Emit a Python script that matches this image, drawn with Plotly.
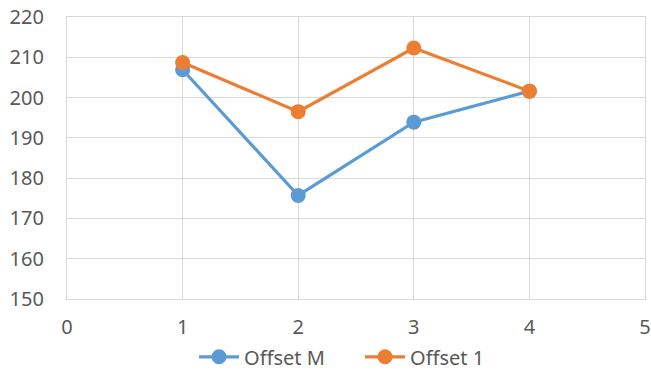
import plotly.graph_objects as go

# Data series
x_vals = [1, 2, 3, 4]
offset_m = [206.9, 175.7, 193.9, 201.6]
offset_1 = [208.7, 196.5, 212.3, 201.6]

series_names = ["Offset M", "Offset 1"]
series_colors = ["#5B9BD5", "#ED7D31"]

x_ticks = [0, 1, 2, 3, 4, 5]
y_ticks = [150, 160, 170, 180, 190, 200, 210, 220]

grid = "#D9D9D9"
text_color = "#595959"
font_family = "Noto Sans"

fig = go.Figure()
for name, vals, color in zip(series_names, [offset_m, offset_1], series_colors):
    fig.add_trace(go.Scatter(
        x=x_vals, y=vals, name=name, mode="lines+markers",
        line=dict(color=color, width=3.2),
        marker=dict(color=color, size=15),
    ))

fig.update_layout(
    width=651, height=376,
    margin=dict(l=67, r=6, t=17, b=77, autoexpand=False),
    paper_bgcolor="white", plot_bgcolor="white",
    font=dict(family=font_family, size=20, color=text_color),
    showlegend=True,
    legend=dict(
        orientation="h", x=0.507, xanchor="center",
        y=-0.205, yanchor="middle",
        font=dict(size=20, color=text_color),
        itemwidth=40, entrywidth=111, entrywidthmode="pixels",
        tracegroupgap=0,
    ),
)
fig.update_xaxes(
    range=[0, 5], tickvals=x_ticks, ticktext=[str(v) for v in x_ticks],
    showgrid=True, gridcolor=grid, gridwidth=1.2,
    showline=True, linecolor=grid, linewidth=1.2, mirror=True,
    zeroline=False, ticks="", ticklabelstandoff=10,
)
fig.update_yaxes(
    range=[150, 220], tickvals=y_ticks, ticktext=[str(v) for v in y_ticks],
    showgrid=True, gridcolor=grid, gridwidth=1.2,
    showline=True, linecolor=grid, linewidth=1.2, mirror=True,
    zeroline=False, ticks="", ticklabelstandoff=18,
)

fig.write_html("out.html")
